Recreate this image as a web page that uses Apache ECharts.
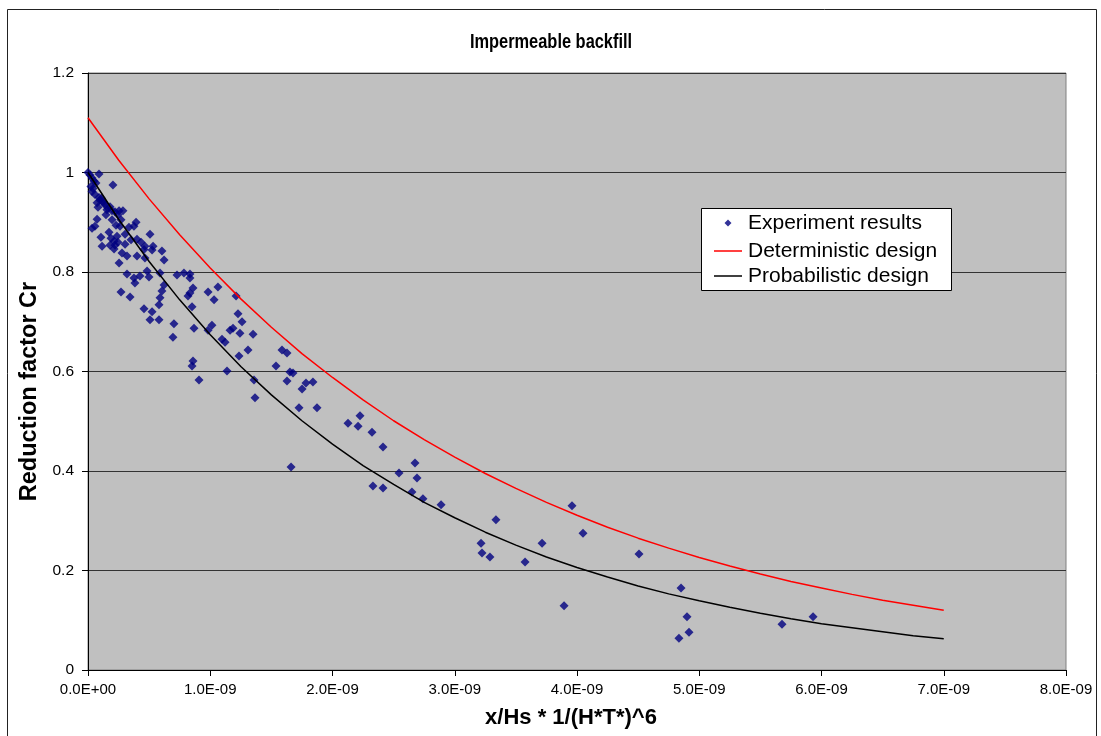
<!DOCTYPE html>
<html>
<head>
<meta charset="utf-8">
<title>Impermeable backfill</title>
<script src="https://cdn.jsdelivr.net/npm/echarts@6/dist/echarts.min.js"></script>
<style>
  html, body { margin: 0; padding: 0; background: #fff; }
  #chart { width: 1101px; height: 736px; }
</style>
</head>
<body>
<div id="chart"></div>
<script>
// Horizontal values are stored in units of 1E-09 (the axis labels show the exponent form).
const X_EXP = -9;

// Measured points: x/Hs * 1/(H*T*)^6 and reduction factor Cr
const expX = [
  0.000, 0.016, 0.033, 0.049, 0.065, 0.090, 0.204, 0.033, 0.057, 0.090,
  0.098, 0.123, 0.139, 0.074, 0.155, 0.180, 0.196, 0.221, 0.254, 0.286,
  0.074, 0.057, 0.033, 0.229, 0.262, 0.335, 0.376, 0.393, 0.303, 0.507,
  0.106, 0.188, 0.213, 0.180, 0.221, 0.401, 0.434, 0.115, 0.532, 0.303,
  0.213, 0.278, 0.319, 0.401, 0.466, 0.466, 0.524, 0.605, 0.622, 0.254,
  0.319, 0.376, 0.384, 0.425, 0.483, 0.499, 0.589, 0.728, 0.785, 0.834,
  0.834, 0.622, 0.605, 0.589, 0.581, 0.270, 0.344, 0.458, 0.524, 0.507,
  0.581, 0.703, 0.859, 0.834, 0.818, 0.982, 1.063, 1.031, 1.211, 0.851,
  0.867, 1.227, 1.260, 1.014, 0.982, 1.162, 1.186, 1.243, 1.350, 0.695,
  1.096, 1.121, 1.587, 1.628, 1.309, 1.235, 0.859, 0.851, 1.538, 1.137,
  1.652, 1.677, 0.908, 1.358, 1.628, 1.783, 1.840, 1.751, 1.366, 1.726,
  1.873, 1.661, 2.127, 2.225, 2.209, 2.323, 2.413, 2.544, 2.675, 2.691,
  2.331, 2.413, 2.650, 2.740, 2.888, 3.337, 3.215, 3.223, 3.288, 3.575,
  3.714, 3.959, 4.049, 3.894, 4.507, 4.851, 4.900, 4.916, 4.834, 5.677,
  5.931, 0.024, 0.041, 0.110, 0.131, 0.164, 0.245, 0.270, 0.147, 0.082,
  0.172, 0.237, 0.352, 0.458, 0.245, 0.197
];
const expCr = [
  1.000, 0.995, 0.989, 0.983, 0.979, 0.997, 0.975, 0.962, 0.956, 0.950,
  0.944, 0.941, 0.935, 0.939, 0.925, 0.931, 0.923, 0.921, 0.923, 0.923,
  0.906, 0.892, 0.888, 0.894, 0.892, 0.890, 0.892, 0.900, 0.876, 0.876,
  0.870, 0.868, 0.862, 0.854, 0.854, 0.866, 0.860, 0.852, 0.852, 0.856,
  0.846, 0.838, 0.832, 0.832, 0.828, 0.852, 0.844, 0.842, 0.824, 0.818,
  0.796, 0.788, 0.778, 0.792, 0.802, 0.790, 0.798, 0.794, 0.798, 0.796,
  0.788, 0.774, 0.762, 0.748, 0.734, 0.760, 0.750, 0.726, 0.720, 0.704,
  0.704, 0.696, 0.768, 0.758, 0.752, 0.760, 0.770, 0.744, 0.752, 0.730,
  0.687, 0.716, 0.700, 0.693, 0.683, 0.683, 0.687, 0.677, 0.675, 0.669,
  0.665, 0.659, 0.643, 0.637, 0.643, 0.631, 0.621, 0.611, 0.611, 0.601,
  0.599, 0.597, 0.583, 0.583, 0.581, 0.577, 0.579, 0.565, 0.547, 0.527,
  0.527, 0.408, 0.496, 0.511, 0.490, 0.478, 0.448, 0.396, 0.416, 0.386,
  0.370, 0.366, 0.358, 0.344, 0.332, 0.302, 0.255, 0.235, 0.227, 0.217,
  0.255, 0.330, 0.275, 0.129, 0.233, 0.165, 0.107, 0.076, 0.064, 0.092,
  0.107, 0.972, 0.968, 0.948, 0.938, 0.928, 0.915, 0.905, 0.915, 0.930,
  0.880, 0.872, 0.865, 0.845, 0.860, 0.905
];

// Design curves, sampled every 0.25E-09
const curveX = [
  0.00, 0.25, 0.50, 0.75, 1.00, 1.25, 1.50, 1.75, 2.00, 2.25,
  2.50, 2.75, 3.00, 3.25, 3.50, 3.75, 4.00, 4.25, 4.50, 4.75,
  5.00, 5.25, 5.50, 5.75, 6.00, 6.25, 6.50, 6.75, 7.00
];
const deterministicCr = [
  1.110, 1.025, 0.947, 0.875, 0.808, 0.746, 0.689, 0.636, 0.588, 0.543,
  0.501, 0.463, 0.428, 0.395, 0.365, 0.337, 0.311, 0.287, 0.265, 0.245,
  0.226, 0.209, 0.193, 0.178, 0.165, 0.152, 0.140, 0.130, 0.120
];
const probabilisticCr = [
  1.000, 0.906, 0.821, 0.744, 0.674, 0.610, 0.553, 0.501, 0.454, 0.411,
  0.373, 0.337, 0.306, 0.277, 0.251, 0.227, 0.206, 0.187, 0.169, 0.153,
  0.139, 0.126, 0.114, 0.103, 0.093, 0.085, 0.077, 0.069, 0.063
];

const TITLE = 'Impermeable backfill';
const FONT = '"Liberation Sans", Arial, Helvetica, sans-serif';
const zip = (xs, ys) => xs.map((x, i) => [x, ys[i]]);

function expLabel(v) {
  if (Math.abs(v) < 1e-12) return '0.0E+00';
  const e = X_EXP;
  const sign = e < 0 ? '-' : '+';
  const mag = String(Math.abs(e)).padStart(2, '0');
  return v.toFixed(1) + 'E' + sign + mag;
}

// Legend icons: a small diamond centred in a 28x7 box, and a thin stroke for the curves.
const DIAMOND_ICON = 'path://M0,0L0,0ZM28,7L28,7ZM14,0L17.5,3.5L14,7L10.5,3.5Z';

const chart = echarts.init(document.getElementById('chart'), null, { renderer: 'canvas' });

const legendRow = (name, top, icon, iconHeight) => ({
  data: [{ name, icon }],
  left: 714,
  top: top,
  orient: 'vertical',
  padding: 0,
  itemWidth: 28,
  itemHeight: iconHeight,
  itemGap: 0,
  z: 20,
  selectedMode: false,
  textStyle: { fontFamily: FONT, fontSize: 21, color: '#000', lineHeight: 22, padding: [0, 0, 0, 1] }
});

chart.setOption({
  backgroundColor: '#fff',
  animation: false,
  graphic: [
    {
      type: 'rect',
      shape: { x: 7.5, y: 9.5, width: 1089, height: 800 },
      style: { fill: 'none', stroke: '#222', lineWidth: 1 },
      silent: true, z: -1
    },
    {
      // chart title, set in a narrow bold face
      type: 'text',
      x: 551, y: 42,
      scaleX: 0.8,
      style: {
        text: TITLE,
        font: 'bold 20.5px ' + FONT,
        fill: '#000',
        textAlign: 'center',
        textVerticalAlign: 'middle'
      },
      silent: true, z: 10
    },
    {
      type: 'rect',
      shape: { x: 701.5, y: 208.5, width: 250, height: 82 },
      style: { fill: '#fff', stroke: '#000', lineWidth: 1 },
      silent: true, z: 10
    }
  ],
  legend: [
    legendRow('Experiment results', 212, DIAMOND_ICON, 7),
    legendRow('Deterministic design', 240, 'rect', 1.5),
    legendRow('Probabilistic design', 265, 'rect', 1.5)
  ],
  grid: {
    left: 88, right: 35, top: 73, bottom: 66,
    show: true,
    backgroundColor: '#C0C0C0',
    borderColor: '#808080',
    borderWidth: 1
  },
  xAxis: {
    type: 'value',
    min: 0, max: 8, interval: 1,
    name: 'x/Hs * 1/(H*T*)^6',
    nameLocation: 'middle',
    nameGap: 37,
    nameTextStyle: { fontFamily: FONT, fontSize: 22, fontWeight: 'bold', color: '#000', padding: [0, 12, 0, 0] },
    axisLine: { show: true, onZero: false, lineStyle: { color: '#000', width: 1 } },
    axisTick: { show: true, length: 6, lineStyle: { color: '#000' } },
    axisLabel: { margin: 12, fontFamily: FONT, fontSize: 15, color: '#000', formatter: expLabel },
    splitLine: { show: false }
  },
  yAxis: {
    type: 'value',
    min: 0, max: 1.2, interval: 0.2,
    name: 'Reduction factor Cr',
    nameLocation: 'middle',
    nameGap: 42,
    nameTextStyle: { fontFamily: FONT, fontSize: 23.5, fontWeight: 'bold', color: '#000', padding: [0, 40, 0, 0] },
    axisLine: { show: true, lineStyle: { color: '#000', width: 1 } },
    axisTick: { show: true, length: 6, lineStyle: { color: '#000' } },
    axisLabel: { margin: 14, fontFamily: FONT, fontSize: 15.5, color: '#000' },
    splitLine: { show: true, lineStyle: { color: '#333', width: 1 } }
  },
  series: [
    {
      name: 'Experiment results',
      type: 'scatter',
      symbol: 'diamond',
      symbolSize: 9,
      itemStyle: { color: '#000080' },
      data: zip(expX, expCr),
      z: 3
    },
    {
      name: 'Deterministic design',
      type: 'line',
      showSymbol: false,
      symbol: 'none',
      lineStyle: { color: '#FF0000', width: 1.5 },
      itemStyle: { color: '#FF0000' },
      data: zip(curveX, deterministicCr),
      z: 4
    },
    {
      name: 'Probabilistic design',
      type: 'line',
      showSymbol: false,
      symbol: 'none',
      lineStyle: { color: '#000', width: 1.5 },
      itemStyle: { color: '#000' },
      data: zip(curveX, probabilisticCr),
      z: 4
    }
  ]
});
</script>
</body>
</html>
